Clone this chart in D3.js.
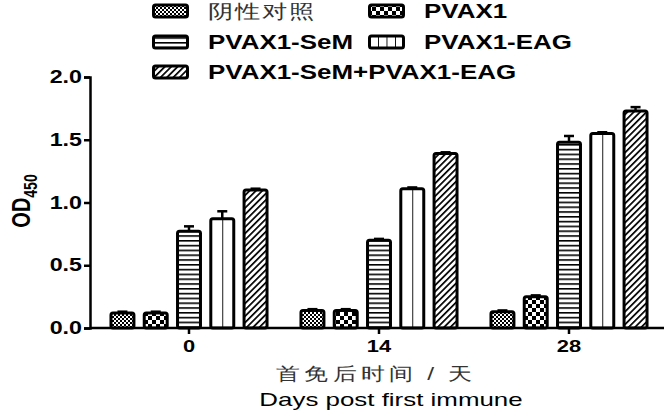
<!DOCTYPE html>
<html>
<head>
<meta charset="utf-8">
<script src="https://cdn.jsdelivr.net/npm/d3@7"></script>
<style>
  body { margin: 0; background: #fff; }
  svg { display: block; }
  text { font-family: "Liberation Sans", Arial, sans-serif; }
</style>
</head>
<body>
<div id="wrapper"></div>
<script>
// data
const days = ["0", "14", "28"];
const seriesNames = ["阴性对照", "PVAX1", "PVAX1-SeM", "PVAX1-EAG", "PVAX1-SeM+PVAX1-EAG"];
const negValues = [0.12, 0.14, 0.13];
const pvaxValues = [0.12, 0.14, 0.25];
const semValues = [0.77, 0.70, 1.48];
const eagValues = [0.87, 1.11, 1.55];
const comboValues = [1.10, 1.39, 1.73];
const negErr = [0.01, 0.01, 0.01];
const pvaxErr = [0.01, 0.01, 0.01];
const semErr = [0.04, 0.01, 0.05];
const eagErr = [0.06, 0.01, 0.01];
const comboErr = [0.01, 0.01, 0.03];
const yTicks = [0, 0.5, 1.0, 1.5, 2.0];

const allValues = [negValues, pvaxValues, semValues, eagValues, comboValues];
const allErr = [negErr, pvaxErr, semErr, eagErr, comboErr];
const patternIds = ["pNeg", "pPvax", "pSem", "pEag", "pCombo"];

const dataset = [];
days.forEach((d, i) => {
  seriesNames.forEach((s, j) => {
    dataset.push({ day: d, series: s, value: allValues[j][i], err: allErr[j][i], k: j });
  });
});

const dimensions = { width: 672, height: 416 };
// text in the picture is stretched sideways
const sx = 1.33;

const wrapper = d3.select("#wrapper").append("svg")
  .attr("width", dimensions.width)
  .attr("height", dimensions.height);

const defs = wrapper.append("defs");

const pNeg = defs.append("pattern").attr("id", "pNeg")
  .attr("patternUnits", "userSpaceOnUse").attr("width", 4).attr("height", 4);
pNeg.append("rect").attr("width", 4).attr("height", 4).attr("fill", "#fff");
pNeg.append("rect").attr("width", 2).attr("height", 2).attr("fill", "#000");
pNeg.append("rect").attr("x", 2).attr("y", 2).attr("width", 2).attr("height", 2).attr("fill", "#000");

const pPvax = defs.append("pattern").attr("id", "pPvax")
  .attr("patternUnits", "userSpaceOnUse").attr("width", 8).attr("height", 8);
pPvax.append("rect").attr("width", 8).attr("height", 8).attr("fill", "#fff");
pPvax.append("rect").attr("width", 4).attr("height", 4).attr("fill", "#000");
pPvax.append("rect").attr("x", 4).attr("y", 4).attr("width", 4).attr("height", 4).attr("fill", "#000");

const pSem = defs.append("pattern").attr("id", "pSem")
  .attr("patternUnits", "userSpaceOnUse").attr("width", 5).attr("height", 4.8);
pSem.append("rect").attr("width", 5).attr("height", 4.8).attr("fill", "#fff");
pSem.append("rect").attr("width", 5).attr("height", 1.6).attr("fill", "#000");

function vPattern(id, w) {
  const p = defs.append("pattern").attr("id", id)
    .attr("patternUnits", "objectBoundingBox").attr("width", w).attr("height", 1);
  p.append("rect").attr("width", 60).attr("height", 400).attr("fill", "#fff");
  p.append("rect").attr("x", -0.9).attr("width", 1.8).attr("height", 400).attr("fill", "#000");
}
vPattern("pEag", 0.5);
vPattern("pEagLeg", 0.25);

const pCombo = defs.append("pattern").attr("id", "pCombo")
  .attr("patternUnits", "userSpaceOnUse").attr("width", 4.5).attr("height", 4.5)
  .attr("patternTransform", "rotate(45)");
pCombo.append("rect").attr("width", 4.5).attr("height", 4.5).attr("fill", "#fff");
pCombo.append("rect").attr("width", 1.7).attr("height", 4.5).attr("fill", "#000");

// scales
const xScale = d3.scaleBand()
  .domain(days)
  .range([94, 664]);

const x1Scale = d3.scaleBand()
  .domain(seriesNames)
  .range([0, xScale.bandwidth()])
  .paddingInner(0.31)
  .paddingOuter(0.51);

const yScale = d3.scaleLinear()
  .domain([0, 2])
  .range([328, 77]);

const bounds = wrapper.append("g");

// bars
bounds.selectAll("rect.bar")
  .data(dataset)
  .join("rect")
  .attr("class", "bar")
  .attr("x", d => xScale(d.day) + x1Scale(d.series))
  .attr("y", d => yScale(d.value))
  .attr("width", x1Scale.bandwidth())
  .attr("height", d => yScale(0) - yScale(d.value))
  .attr("rx", 2)
  .attr("fill", d => `url(#${patternIds[d.k]})`)
  .attr("stroke", "#000")
  .attr("stroke-width", 3);

// error bars (upper half only)
const errG = bounds.selectAll("g.err")
  .data(dataset)
  .join("g")
  .attr("class", "err")
  .attr("transform", d => `translate(${xScale(d.day) + x1Scale(d.series) + x1Scale.bandwidth() / 2},0)`);
errG.append("line")
  .attr("y1", d => yScale(d.value))
  .attr("y2", d => yScale(d.value + d.err))
  .attr("stroke", "#000").attr("stroke-width", 2.5);
errG.append("line")
  .attr("x1", -5).attr("x2", 5)
  .attr("y1", d => yScale(d.value + d.err))
  .attr("y2", d => yScale(d.value + d.err))
  .attr("stroke", "#000").attr("stroke-width", 2.5);

// y axis
const yAxis = bounds.append("g")
  .attr("transform", "translate(90,0)")
  .call(d3.axisLeft(yScale).tickValues(yTicks).tickFormat(d3.format(".1f")).tickSizeOuter(0).tickSize(6));
yAxis.select(".domain").attr("stroke-width", 2.5);
yAxis.selectAll(".tick line").attr("stroke-width", 2.5);
yAxis.selectAll(".tick text")
  .attr("x", -8 / sx)
  .attr("transform", `scale(${sx},1)`)
  .attr("font-size", 17.5)
  .attr("font-weight", "bold")
  .attr("font-family", "'Liberation Sans', Arial, sans-serif")
  .attr("fill", "#000");

// x axis
const xAxis = bounds.append("g")
  .attr("transform", `translate(0,${yScale(0)})`)
  .call(d3.axisBottom(xScale).tickSizeOuter(0).tickSize(6));
xAxis.select(".domain")
  .attr("d", `M90,0H${xScale.range()[1]}`)
  .attr("stroke-width", 2.5);
xAxis.selectAll(".tick line").attr("stroke-width", 2.5);
xAxis.selectAll(".tick text")
  .attr("y", 12)
  .attr("transform", `scale(${sx},1)`)
  .attr("font-size", 16.5)
  .attr("font-weight", "bold")
  .attr("font-family", "'Liberation Sans', Arial, sans-serif")
  .attr("fill", "#000");

// y label OD450
const yLabel = wrapper.append("g")
  .attr("transform", `translate(30,201) scale(${sx},1) rotate(-90)`)
  .append("text")
  .attr("text-anchor", "middle")
  .attr("font-size", 20)
  .attr("font-weight", "bold")
  .attr("fill", "#000");
yLabel.append("tspan").text("OD");
yLabel.append("tspan").attr("font-size", 14).attr("dy", 5).text("450");

// x titles
wrapper.append("g")
  .attr("transform", `translate(376,380) scale(${sx},1)`)
  .append("text")
  .attr("text-anchor", "middle")
  .attr("font-family", "'Noto Sans CJK SC', sans-serif")
  .attr("font-size", 18.5)
  .attr("letter-spacing", 2.5)
  .attr("fill", "#333")
  .text("首免后时间 / 天");

wrapper.append("g")
  .attr("transform", `translate(391,406) scale(1.4,1)`)
  .append("text")
  .attr("text-anchor", "middle")
  .attr("font-size", 18.5)
  .attr("fill", "#000")
  .text("Days post first immune");

// legend
const legendPos = [
  { x: 152, y: 11 }, { x: 368, y: 11 },
  { x: 152, y: 42 }, { x: 368, y: 42 },
  { x: 152, y: 72 },
];
const legendFill = ["pNeg", "pPvax", "pSem", "pEagLeg", "pCombo"];
const legend = wrapper.selectAll("g.leg")
  .data(seriesNames)
  .join("g")
  .attr("class", "leg")
  .attr("transform", (d, i) => `translate(${legendPos[i].x},${legendPos[i].y})`);
legend.append("rect")
  .attr("x", 1.5).attr("y", -6)
  .attr("width", 34).attr("height", 12)
  .attr("rx", 2)
  .attr("fill", (d, i) => `url(#${legendFill[i]})`)
  .attr("stroke", "#000")
  .attr("stroke-width", 3);
legend.append("g")
  .attr("transform", `translate(56,7) scale(${sx},1)`)
  .append("text")
  .attr("font-size", (d, i) => i === 0 ? 19 : 19.5)
  .attr("font-weight", (d, i) => i === 0 ? "normal" : "bold")
  .attr("font-family", (d, i) => i === 0 ? "'Noto Sans CJK SC', sans-serif" : "'Liberation Sans', Arial, sans-serif")
  .attr("letter-spacing", (d, i) => i === 0 ? 1.5 : 0)
  .attr("fill", (d, i) => i === 0 ? "#333" : "#000")
  .text(d => d);
</script>
</body>
</html>
